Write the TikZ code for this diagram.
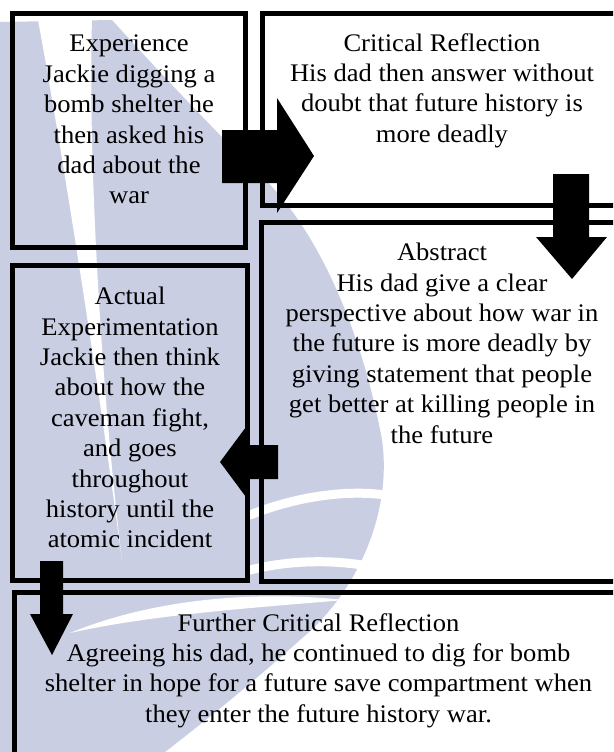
\documentclass[tikz,border=0pt]{standalone}
\usepackage{fontspec}
\setmainfont{Liberation Serif}
\newfontfamily\tnr[FakeStretch=1.05]{Liberation Serif}
\definecolor{wm}{RGB}{201,206,227}
\tikzset{
  box/.style={draw=black, line width=5pt, inner sep=0pt, outer sep=0pt},
  txt/.style={inner sep=0pt, anchor=north, align=center,
    font=\tnr\fontsize{25.3pt}{30.4pt}\selectfont},
  blockarrow/.style={fill=black},
  wmfill/.style={fill=wm},
  wmgap/.style={draw=white, line cap=round}
}
\begin{document}
\begin{tikzpicture}[x=1pt,y=-1pt]
\clip (0,0) rectangle (613,752);
\fill[white] (0,0) rectangle (613,752);
% watermark (approximate)
\fill[wmfill] (0,22) -- (112,20) .. controls (180,95) and (225,140) .. (252,168)
  .. controls (310,215) and (360,320) .. (382,440)
  .. controls (392,510) and (360,590) .. (300,640)
  .. controls (250,685) and (200,725) .. (165,752) -- (0,752) -- cycle;
\fill[white] (38,20) -- (92,20) .. controls (88,150) and (100,380) .. (122,560)
  .. controls (98,380) and (62,150) .. (38,20) -- cycle;
\fill[white] (70,633) .. controls (150,600) and (250,590) .. (345,600)
  .. controls (250,608) and (150,615) .. (70,633) -- cycle;
\draw[wmgap, line width=9pt] (250,515) .. controls (300,495) and (350,490) .. (385,495);
\draw[wmgap, line width=9pt] (250,570) .. controls (290,560) and (330,560) .. (362,565);
% boxes
\node[box, minimum width=233pt, minimum height=234pt] (b1) at (129,130.5) {};
\node[box, minimum width=377.5pt, minimum height=191.5pt] (b2) at (451.25,109.75) {};
\node[box, minimum width=379pt, minimum height=359pt] (b3) at (450.5,401.5) {};
\node[box, minimum width=235.5pt, minimum height=314.5pt] (b4) at (129.75,422.75) {};
\node[box, minimum width=626pt, minimum height=208pt] (b5) at (327,696) {};
% block arrows
\fill[blockarrow] (222,130) -- (277,130) -- (277,98) -- (314,156) -- (277,213) -- (277,183) -- (222,183) -- cycle;
\fill[blockarrow] (553,174) -- (589,174) -- (589,237) -- (607,237) -- (572,279) -- (536,237) -- (553,237) -- cycle;
\fill[blockarrow] (278,445) -- (278,479) -- (246,479) -- (246,497) -- (220,462) -- (246,427) -- (246,445) -- cycle;
\fill[blockarrow] (40,561) -- (63,561) -- (63,614) -- (73,614) -- (52,655) -- (30,614) -- (40,614) -- cycle;
% texts
\node[txt] (t1) at (129,35) {Experience\\Jackie digging a\\bomb shelter he\\then asked his\\dad about the\\war};
\node[txt] (t2) at (442,33) {Critical Reflection\\His dad then answer without\\doubt that future history is\\more deadly};
\node[txt] (t3) at (442,243) {Abstract\\His dad give a clear\\perspective about how war in\\the future is more deadly by\\giving statement that people\\get better at killing people in\\the future};
\node[txt] (t4) at (130,287) {Actual\\Experimentation\\Jackie then think\\about how the\\caveman fight,\\and goes\\throughout\\history until the\\atomic incident};
\node[txt] (t5) at (318.5,613) {Further Critical Reflection\\Agreeing his dad, he continued to dig for bomb\\shelter in hope for a future save compartment when\\they enter the future history war.};
\end{tikzpicture}
\end{document}
